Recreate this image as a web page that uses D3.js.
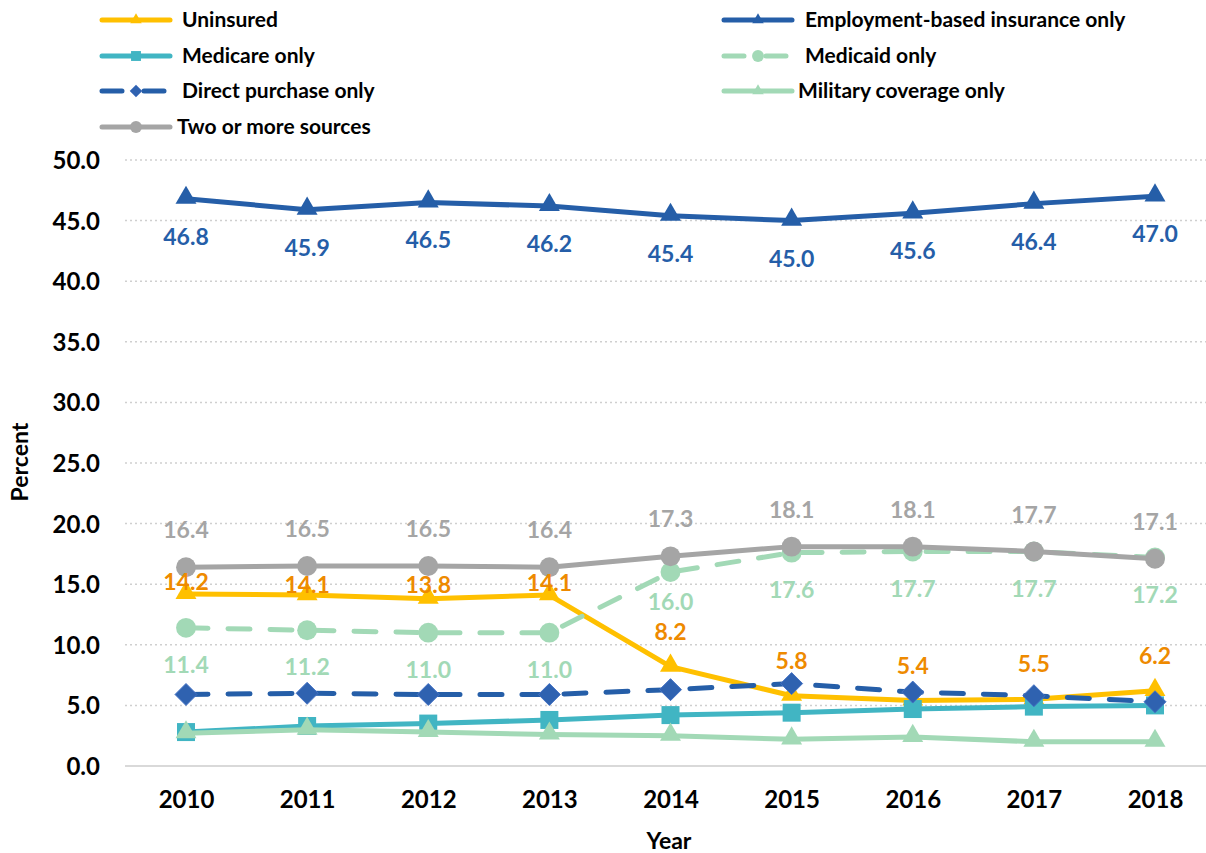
<!DOCTYPE html>
<html><head><meta charset="utf-8">
<script src="https://cdn.jsdelivr.net/npm/d3@7"></script>
<style>
html,body{margin:0;padding:0;background:#fff;}
svg{display:block;font-family:Lato,"Open Sans",sans-serif;font-weight:bold;}
</style></head>
<body>
<svg id="chart" width="1206" height="853"></svg>
<script>
// ---- data ----
const years = ["2010","2011","2012","2013","2014","2015","2016","2017","2018"];
const uninsured      = [14.2,14.1,13.8,14.1,8.2,5.8,5.4,5.5,6.2];
const employment     = [46.8,45.9,46.5,46.2,45.4,45.0,45.6,46.4,47.0];
const medicare       = [2.8,3.3,3.5,3.8,4.2,4.4,4.7,4.9,5.0];
const medicaid       = [11.4,11.2,11.0,11.0,16.0,17.6,17.7,17.7,17.2];
const directPurchase = [5.9,6.0,5.9,5.9,6.3,6.8,6.1,5.8,5.3];
const military       = [2.7,3.0,2.8,2.6,2.5,2.2,2.4,2.0,2.0];
const twoOrMore      = [16.4,16.5,16.5,16.4,17.3,18.1,18.1,17.7,17.1];
const yTicks = [0,5,10,15,20,25,30,35,40,45,50];

// ---- series styling ----
const series = [
  {name:"Uninsured", values:uninsured, color:"#FFC000", marker:"triangle", dash:null, label:true, labelColor:"#EE8A00", labelDy:[-12,-10,-14,-12,-35,-35,-35,-35,-35]},
  {name:"Employment-based insurance only", values:employment, color:"#255EA8", marker:"triangle", dash:null, label:true, labelColor:"#255EA8", labelDy:38},
  {name:"Medicare only", values:medicare, color:"#41B5C3", marker:"square", dash:null, label:false},
  {name:"Medicaid only", values:medicaid, color:"#A2D9B6", marker:"circle", dash:"22,20", label:true, labelColor:"#A2D9B6", labelDy:[37,37,37,37,30,37,37,37,37]},
  {name:"Direct purchase only", values:directPurchase, color:"#255EA8", markerFill:"#2F62B0", marker:"diamond", dash:"22,20", label:false},
  {name:"Military coverage only", values:military, color:"#A2D9B6", marker:"triangle", dash:null, label:false},
  {name:"Two or more sources", values:twoOrMore, color:"#A5A5A5", marker:"circle", dash:null, label:true, labelColor:"#A5A5A5", labelDy:-37}
];

const svg = d3.select("#chart");
const x = d3.scalePoint().domain(years).range([186,1155]);
const y = d3.scaleLinear().domain([0,50]).range([766,160]);

// gridlines
svg.append("g").selectAll("line").data(yTicks.filter(d=>d>0)).join("line")
  .attr("x1",125).attr("x2",1215).attr("y1",d=>y(d)).attr("y2",d=>y(d))
  .attr("stroke","#CFCFCF").attr("stroke-width",1.5).attr("stroke-dasharray","2,3");
svg.append("line").attr("x1",125).attr("x2",1215).attr("y1",y(0)).attr("y2",y(0))
  .attr("stroke","#D9D9D9").attr("stroke-width",2);

// y axis
const yAxis = d3.axisLeft(y).tickValues(yTicks).tickFormat(d3.format(".1f")).tickSize(0).tickPadding(0);
const gy = svg.append("g").attr("transform","translate(100,0)").call(yAxis);
gy.select(".domain").remove();
gy.selectAll("text").attr("font-size",24).attr("font-weight","bold").attr("fill","#000").attr("font-family","Lato").attr("dy","0.35em");

// x axis
const xAxis = d3.axisBottom(x).tickSize(0).tickPadding(0);
const gx = svg.append("g").attr("transform","translate(0,800)").call(xAxis);
gx.select(".domain").remove();
gx.selectAll("text").attr("font-size",24).attr("font-weight","bold").attr("fill","#000").attr("font-family","Lato").attr("dy","0.35em");

// axis titles
svg.append("text").attr("x",669).attr("y",841).attr("dy","0.35em").attr("text-anchor","middle")
  .attr("font-size",23).attr("fill","#000").text("Year");
svg.append("text").attr("transform","translate(20,462) rotate(-90)").attr("dy","0.35em").attr("text-anchor","middle")
  .attr("font-size",23).attr("fill","#000").text("Percent");

// markers
function markerPath(type){
  if(type==="triangle") return d3.symbol().type(d3.symbolTriangle).size(190)();
  if(type==="square") return "M-9,-9H9V9H-9Z";
  if(type==="diamond") return "M0,-11L11,0L0,11L-11,0Z";
  return d3.symbol().type(d3.symbolCircle).size(310)();
}

const line = d3.line().x((d,i)=>x(years[i])).y(d=>y(d));

series.forEach(s=>{
  const g = svg.append("g");
  g.append("path").datum(s.values).attr("d",line).attr("fill","none")
    .attr("stroke",s.color).attr("stroke-width",5)
    .attr("stroke-linecap","round").attr("stroke-linejoin","round")
    .attr("stroke-dasharray",s.dash);
  g.selectAll("path.m").data(s.values).join("path").attr("class","m")
    .attr("d",markerPath(s.marker))
    .attr("transform",(d,i)=>`translate(${x(years[i])},${y(d) + (s.marker==="triangle"?-1:0)})`)
    .attr("fill",s.markerFill||s.color)
    .attr("stroke",s.marker==="diamond"?"#4472C4":"none").attr("stroke-width",1);
});

// data labels
series.filter(s=>s.label).forEach(s=>{
  svg.append("g").selectAll("text").data(s.values).join("text")
    .attr("x",(d,i)=>x(years[i]))
    .attr("y",(d,i)=>y(d)+(Array.isArray(s.labelDy)?s.labelDy[i]:s.labelDy))
    .attr("dy","0.35em").attr("text-anchor","middle")
    .attr("font-size",23).attr("fill",s.labelColor)
    .text(d=>d3.format(".1f")(d));
});

// legend
const legendPos = [
  {x:100,y:20,tx:182},{x:722,y:20,tx:805},
  {x:100,y:56,tx:182},{x:722,y:56,tx:805},
  {x:100,y:91,tx:182},{x:722,y:91,tx:798},
  {x:100,y:127,tx:177}
];
series.forEach((s,i)=>{
  const p = legendPos[i];
  const g = svg.append("g");
  g.append("line").attr("x1",p.x+2).attr("x2",p.x+70).attr("y1",p.y).attr("y2",p.y)
    .attr("stroke",s.color).attr("stroke-width",5).attr("stroke-linecap","round")
    .attr("stroke-dasharray",s.dash?"20,22":null);
  g.append("path").attr("d",markerPath(s.marker))
    .attr("transform",`translate(${p.x+36},${p.y}) scale(${s.marker==="circle"?0.6:0.55})`)
    .attr("fill",s.markerFill||s.color)
    .attr("stroke",s.marker==="diamond"?"#4472C4":"none");
  g.append("text").attr("x",p.tx).attr("y",p.y).attr("dy","0.35em")
    .attr("font-size",21).attr("fill","#000").text(s.name);
});
</script>
</body></html>
